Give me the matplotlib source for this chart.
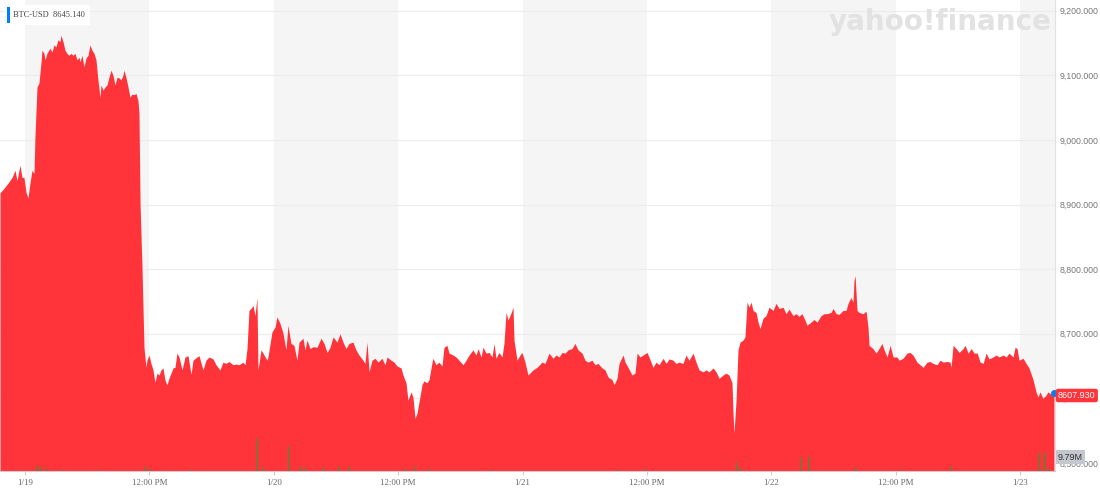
import matplotlib
matplotlib.use("Agg")
import matplotlib.pyplot as plt
from matplotlib.patches import Rectangle

# hours since 1/19 00:00 and BTC-USD price
hours = [
    -2.41, -2.03, -1.64, -1.25, -0.96, -0.77, -0.48, -0.29, -0.10, 0.10, 0.29, 0.48, 0.68, 0.87, 0.96,
    1.16, 1.35, 1.54, 1.64, 1.83, 1.93, 2.12, 2.41, 2.60, 2.80, 2.99, 3.18, 3.38, 3.47, 3.67, 3.86,
    4.05, 4.25, 4.44, 4.63, 4.82, 5.02, 5.21, 5.31, 5.50, 5.69, 5.89, 6.08, 6.27, 6.46, 6.66, 6.85,
    7.04, 7.24, 7.33, 7.53, 7.72, 7.91, 8.10, 8.30, 8.49, 8.68, 8.88, 9.07, 9.26, 9.45, 9.55, 9.74,
    9.94, 10.13, 10.32, 10.52, 10.71, 10.90, 11.00, 11.10, 11.29, 11.48, 11.67, 11.77, 11.96, 12.16,
    12.35, 12.54, 12.74, 12.93, 13.12, 13.31, 13.51, 13.70, 13.89, 14.09, 14.28, 14.47, 14.66, 14.86,
    15.15, 15.44, 15.73, 16.02, 16.21, 16.59, 16.79, 17.17, 17.46, 17.75, 18.14, 18.43, 18.81, 19.10,
    19.39, 19.68, 20.07, 20.36, 20.65, 21.03, 21.23, 21.42, 21.61, 21.90, 22.00, 22.19, 22.38, 22.48,
    22.77, 22.96, 23.35, 23.44, 23.83, 24.12, 24.31, 24.60, 24.89, 25.18, 25.37, 25.66, 25.95, 26.24,
    26.44, 26.82, 27.01, 27.21, 27.50, 27.79, 28.17, 28.56, 28.85, 29.14, 29.43, 29.72, 30.10, 30.39,
    30.68, 30.97, 31.26,
    31.64, 31.93, 32.22, 32.61, 32.80, 33.00, 33.19, 33.48, 33.77, 34.06, 34.44, 34.73, 34.93, 35.31,
    35.60, 35.89, 36.28, 36.47, 36.76, 36.95, 37.24, 37.43, 37.63, 37.82, 38.01, 38.30, 38.49, 38.78,
    38.98, 39.27, 39.36, 39.65, 39.94, 40.23, 40.42, 40.71, 40.91, 41.29, 41.58, 41.87, 42.26, 42.55,
    42.84, 43.22, 43.51, 43.71, 44.00, 44.19, 44.48, 44.77, 45.06, 45.25, 45.44, 45.73, 46.02, 46.21,
    46.41, 46.60, 46.89, 47.08, 47.18, 47.47, 47.76, 47.95, 48.24, 48.53,
    49.01, 49.40, 49.88, 50.17, 50.56, 50.94, 51.23, 51.52, 51.81, 52.10, 52.39, 52.77, 53.06, 53.35,
    53.74, 54.03, 54.32, 54.70, 54.99, 55.28, 55.67, 55.96, 56.25, 56.63, 56.83, 57.12, 57.31, 57.70,
    57.89, 58.18, 58.56, 58.85, 59.05, 59.34, 59.63, 60.01, 60.20, 60.59, 60.88, 61.17, 61.56, 61.85,
    62.14, 62.52, 62.81, 63.10, 63.48, 63.77, 64.06, 64.45, 64.74, 65.03, 65.41, 65.70, 65.99, 66.38,
    66.67, 66.96, 67.34, 67.63,
    67.92, 68.21, 68.31, 68.40, 68.60, 68.79, 68.98, 69.27, 69.46, 69.66, 69.85, 70.04, 70.24, 70.53,
    70.72, 70.91, 71.20, 71.49, 71.78, 72.17, 72.46, 72.75, 73.13, 73.42, 73.71, 74.10, 74.39, 74.68,
    74.96, 75.25, 75.45, 75.83, 76.12, 76.41, 76.80, 77.09, 77.38, 77.76, 77.96, 78.25, 78.54, 78.92,
    79.21, 79.40, 79.69, 79.88, 79.98, 80.08, 80.27, 80.46, 80.85, 81.14, 81.33, 81.43, 81.81, 82.10,
    82.39, 82.68, 82.88, 83.17, 83.46, 83.75, 84.13, 84.32,
    84.71, 85.09, 85.38, 85.67, 86.06, 86.35, 86.64, 87.03, 87.32, 87.61, 87.99, 88.28, 88.57, 88.96,
    89.25, 89.34, 89.54, 89.83, 90.12, 90.50, 90.70, 90.99, 91.28, 91.57, 91.86, 92.15, 92.44, 92.72,
    93.01, 93.40, 93.69, 93.98, 94.36, 94.65, 94.94, 95.32, 95.52, 95.71, 95.90, 96.29, 96.58, 96.86,
    97.25, 97.54, 97.73, 97.92, 98.21, 98.50, 98.70, 99.08, 99.27,
]
price = [
    8918, 8925, 8933, 8942, 8953, 8937, 8961, 8942, 8942, 8919, 8910, 8933, 8953, 8948, 9004,
    9082, 9088, 9119, 9139, 9134, 9124, 9134, 9142, 9136, 9147, 9144, 9155, 9152, 9162, 9152, 9139,
    9134, 9131, 9134, 9131, 9134, 9124, 9128, 9121, 9131, 9113, 9127, 9131, 9147, 9139, 9134, 9124,
    9093, 9065, 9085, 9077, 9082, 9085, 9097, 9108, 9100, 9085, 9097, 9096, 9093, 9100, 9108, 9097,
    9082, 9066, 9071, 9070, 9072, 9061, 9041, 8902, 8803, 8679, 8648, 8659, 8667, 8654,
    8644, 8625, 8639, 8636, 8644, 8647, 8628, 8621, 8631, 8639, 8647, 8648, 8670, 8664,
    8644, 8664, 8666, 8637, 8659, 8664, 8666, 8644, 8659, 8664, 8661, 8652, 8644, 8656,
    8654, 8657, 8652, 8653, 8652, 8656, 8652, 8677, 8736, 8741, 8744, 8728, 8756, 8644,
    8675, 8670, 8659, 8664, 8703, 8710, 8726, 8716, 8701, 8675, 8713, 8685, 8682, 8659,
    8687, 8693, 8675, 8690, 8677, 8680, 8679, 8693, 8685, 8671, 8679, 8695, 8687, 8700,
    8687, 8677, 8685,
    8687, 8675, 8667, 8659, 8654, 8687, 8641, 8659, 8662, 8656, 8662, 8652, 8664, 8659,
    8656, 8650, 8647, 8636, 8624, 8597, 8610, 8602, 8569, 8577, 8594, 8621, 8627, 8624,
    8629, 8656, 8662, 8652, 8656, 8650, 8679, 8682, 8670, 8667, 8664, 8659, 8652, 8659,
    8667, 8675, 8667, 8677, 8664, 8679, 8670, 8671, 8664, 8685, 8662, 8671, 8664, 8685,
    8733, 8721, 8732, 8741, 8690, 8659, 8667, 8671, 8656, 8636,
    8644, 8648, 8656, 8654, 8670, 8662, 8667, 8664, 8671, 8670, 8675, 8677, 8685, 8675,
    8670, 8659, 8656, 8659, 8652, 8654, 8647, 8644, 8633, 8629, 8621, 8631, 8654, 8667,
    8656, 8648, 8636, 8639, 8670, 8664, 8667, 8671, 8664, 8648, 8656, 8652, 8662, 8654,
    8661, 8659, 8654, 8656, 8654, 8667, 8659, 8670, 8656, 8644, 8641, 8644, 8641, 8647,
    8641, 8631, 8636, 8639,
    8636, 8624, 8577, 8546, 8597, 8675, 8687, 8690, 8695, 8749, 8741, 8749, 8736, 8733,
    8718, 8708, 8724, 8728, 8741, 8736, 8747, 8739, 8741, 8731, 8738, 8728, 8731, 8727,
    8731, 8721, 8713, 8718, 8722, 8718, 8728, 8731, 8731, 8733, 8739, 8731, 8730, 8736,
    8736, 8747, 8756, 8749, 8783, 8790, 8736, 8733, 8731, 8735, 8710, 8682, 8677, 8670,
    8677, 8685, 8675, 8664, 8682, 8664, 8664, 8659,
    8662, 8670, 8671, 8667, 8656, 8652, 8648, 8656, 8657, 8654, 8652, 8659, 8656, 8657,
    8656, 8648, 8682, 8677, 8671, 8677, 8682, 8670, 8677, 8670, 8670, 8656, 8654, 8670,
    8661, 8664, 8667, 8664, 8667, 8664, 8670, 8664, 8679, 8677, 8659, 8662, 8654, 8647,
    8629, 8610, 8602, 8610, 8600, 8605, 8610, 8605, 8608,
]

# volume (millions)
vol_hours = [1.16, 1.45, 2.12, 3.5, 7.0, 11.58, 12.06, 16.0, 22.38, 22.96, 25.37, 26.53, 27.01,
             28.75, 30.20, 31.26, 36.66, 37.63, 38.88, 45.0, 57.12, 59.82, 68.60, 68.98, 74.87,
             75.64, 80.08, 84.5, 89.24, 97.83, 98.31, 98.70]
vol_values = [5, 3.4, 2.5, 1.5, 1.5, 4.3, 2.5, 1.5, 28, 3.4, 21, 4.3, 3.4,
              3.4, 4.3, 4.3, 2.5, 4.3, 2.5, 1.5, 2, 2.5, 7.7, 3.4, 12,
              12.8, 3.4, 1.5, 4.3, 16, 16, 2.5]

tick_hours = [0, 12, 24, 36, 48, 60, 72, 84, 96]
tick_labels = ["1/19", "12:00 PM", "1/20", "12:00 PM", "1/21", "12:00 PM", "1/22", "12:00 PM", "1/23"]
y_ticks = [8500, 8600, 8700, 8800, 8900, 9000, 9100, 9200]

prev_close = 8645.140
last_price = 8607.930
last_volume = "9.79M"

red = "#ff333a"
blue = "#0081f2"

fig = plt.figure(figsize=(11, 4.91), dpi=100)
pos = [0, 1 - 471 / 491, 1055 / 1100, 471 / 491]
ax = fig.add_axes(pos)

x_min, x_max = -2.41, 99.37
y_min, y_max = 8487.5, 9216.6

# morning shading for each day
for d in tick_hours[::2]:
    ax.axvspan(d, min(d + 12, x_max), color="#f5f5f5", zorder=0, lw=0)

ax.fill_between(hours, price, y_min, color=red, lw=0, zorder=2)

ax.set_xlim(x_min, x_max)
ax.set_ylim(y_min, y_max)
ax.set_yticks(y_ticks)
ax.set_yticklabels([f"{v:,.3f}" for v in y_ticks], fontsize=6.3, color="#777777",
                   family="Liberation Sans")
ax.yaxis.tick_right()
ax.tick_params(axis="y", length=0, pad=3)
ax.set_xticks(tick_hours)
ax.set_xticklabels(tick_labels, fontsize=6.4, color="#666666", family="Liberation Serif")
ax.tick_params(axis="x", length=3, color="#cccccc", pad=3)
ax.grid(axis="y", color="#ececec", lw=0.8, zorder=1)
ax.set_axisbelow(True)
for s in ["top", "left"]:
    ax.spines[s].set_visible(False)
ax.spines["right"].set_color("#e2e2e2")
ax.spines["bottom"].set_color("#cccccc")
ax.spines["bottom"].set_linewidth(0.8)

ax.plot(hours[-1], price[-1], "o", color=blue, ms=4, zorder=5, clip_on=False)

# volume bars
axv = fig.add_axes(pos, sharex=ax)
axv.patch.set_visible(False)
axv.axis("off")
axv.set_ylim(0, 400)
axv.vlines(vol_hours, 0, vol_values, color="#4f8a3c", lw=1)

# legend box
fig.add_artist(Rectangle((5 / 1100, 1 - 25 / 491), 85 / 1100, 20 / 491, transform=fig.transFigure,
                         facecolor="white", edgecolor="none", zorder=4))
fig.add_artist(Rectangle((7 / 1100, 1 - 23 / 491), 2.5 / 1100, 16 / 491, transform=fig.transFigure,
                         facecolor=blue, edgecolor="none", zorder=5))
fig.text(13 / 1100, 1 - 15 / 491, f"BTC-USD  {prev_close:.3f}", fontsize=6, color="#444444",
         family="Liberation Serif", va="center", zorder=6)

# watermark
fig.text(940 / 1100, 1 - 22 / 491, "yahoo!finance", fontsize=20, fontweight="heavy",
         color="#e2e2e2", ha="center", va="center", family="DejaVu Sans", zorder=1)

# price and volume labels
fig.text(1058 / 1100, 1 - 395.5 / 491, f"{last_price:.3f}", fontsize=6.5, color="white",
         family="Liberation Sans", va="center", zorder=6,
         bbox=dict(boxstyle="round,pad=0.25", facecolor=red, edgecolor="none"))
fig.text(1058 / 1100, 1 - 457 / 491, last_volume, fontsize=6.5, color="#333333",
         family="Liberation Sans", va="center", zorder=6,
         bbox=dict(boxstyle="square,pad=0.25", facecolor="#c4c8ce", edgecolor="none"))

plt.savefig("out.png", dpi=100)
plt.close()
